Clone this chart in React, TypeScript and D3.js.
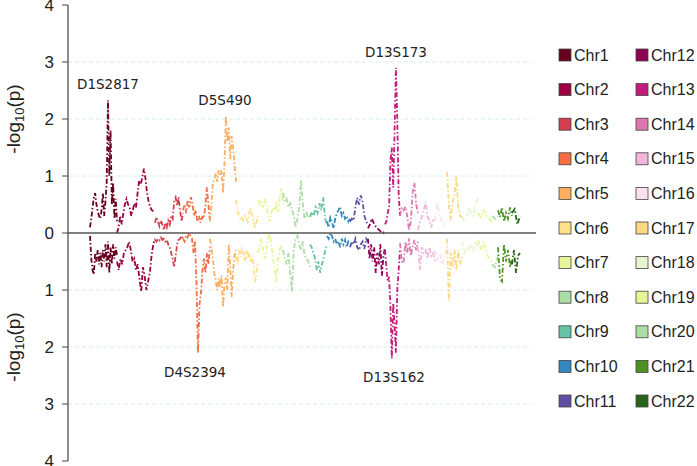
import React from "react";
import * as d3 from "d3";

// chromosome names, lengths (map units) and colours
const chrNames = ["Chr1", "Chr2", "Chr3", "Chr4", "Chr5", "Chr6", "Chr7", "Chr8", "Chr9", "Chr10", "Chr11",
  "Chr12", "Chr13", "Chr14", "Chr15", "Chr16", "Chr17", "Chr18", "Chr19", "Chr20", "Chr21", "Chr22"];
const chrLength = [27, 38, 28, 27, 26, 22, 25, 27, 17, 23, 18, 17, 15, 18, 17, 12, 15, 16, 14, 6, 14, 8];
const chrColors = ["#67001f", "#9e0142", "#d53e4f", "#f46d43", "#fdae61", "#fee08b", "#e6f598", "#abdda4",
  "#66c2a5", "#3288bd", "#5e4fa2", "#8e0152", "#c51b7d", "#de77ae", "#f1b6da", "#fde0ef", "#fdd97f",
  "#e6f5d0", "#e6f598", "#abdda4", "#4d9221", "#276419"];

// -log10(p), upper panel (one array per chromosome, evenly spaced along it)
const topValues = [
  [0.1, 0.25, 0.45, 0.62, 0.7, 0.5, 0.38, 0.3, 0.25, 0.4, 0.7, 0.3, 0.55, 0.9, 2.33, 1.0, 1.8, 0.5, 0.88, 0.25, 0.6, 0.2],
  [0.0, 0.1, 0.3, 0.15, 0.35, 0.5, 0.6, 0.5, 0.45, 0.3, 0.4, 0.52, 0.45, 0.7, 0.92, 0.85, 0.98, 1.13, 0.95, 0.7, 0.55, 0.45, 0.4, 0.38, 0.37],
  [0.18, 0.28, 0.2, 0.12, 0.22, 0.15, 0.05, 0.18, 0.1, 0.22, 0.15, 0.3, 0.25, 0.55, 0.62, 0.48, 0.63, 0.4, 0.2, 0.35],
  [0.4, 0.5, 0.35, 0.58, 0.45, 0.63, 0.5, 0.3, 0.4, 0.2, 0.3, 0.18, 0.28, 0.25, 0.45, 0.8, 0.5, 0.2],
  [0.2, 0.5, 0.88, 0.95, 1.05, 0.9, 1.1, 1.0, 1.1, 0.7, 1.2, 2.05, 1.6, 1.85, 1.3, 1.7, 1.5, 1.2, 0.9],
  [0.58, 0.4, 0.3, 0.25, 0.28, 0.22, 0.3, 0.25, 0.2, 0.35, 0.44, 0.3, 0.2, 0.08, 0.2, 0.3],
  [0.58, 0.5, 0.55, 0.45, 0.6, 0.5, 0.3, 0.2, 0.35, 0.45, 0.4, 0.5, 0.37, 0.6, 0.78, 0.5],
  [0.7, 0.55, 0.6, 0.45, 0.52, 0.4, 0.3, 0.1, 0.25, 0.45, 0.93, 0.5, 0.25, 0.35, 0.28, 0.3],
  [0.28, 0.37, 0.3, 0.45, 0.35, 0.52, 0.4, 0.63, 0.25, 0.15],
  [0.2, 0.1, 0.27, 0.2, 0.08, 0.25, 0.35, 0.4, 0.46, 0.3, 0.35, 0.25, 0.3, 0.2, 0.25],
  [0.2, 0.25, 0.22, 0.45, 0.62, 0.5, 0.66, 0.55, 0.3, 0.2, 0.15],
  [0.08, 0.15, 0.25, 0.18, 0.12, 0.08, 0.05, 0.02, 0.0, 0.05],
  [0.15, 0.2, 0.35, 0.46, 1.28, 1.5, 0.8, 1.75, 2.9, 1.98, 0.7, 0.3],
  [0.3, 0.45, 0.4, 0.46, 0.3, 0.05, 0.2, 0.7, 0.88, 0.5, 0.35],
  [0.05, 0.2, 0.28, 0.4, 0.55, 0.3, 0.22, 0.1, 0.25, 0.22],
  [0.22, 0.53, 0.3, 0.2, 0.15, 0.2],
  [1.07, 0.5, 0.23, 0.55, 0.65, 1.0, 0.45, 0.3, 0.28],
  [0.28, 0.2, 0.25, 0.45, 0.35, 0.3, 0.5, 0.62],
  [0.35, 0.28, 0.4, 0.3, 0.25, 0.2],
  [0.3, 0.25, 0.3],
  [0.4, 0.28, 0.45, 0.2, 0.35, 0.25, 0.45, 0.3],
  [0.35, 0.42, 0.15, 0.3]
];

// -log10(p), lower panel
const bottomValues = [
  [0.05, 0.45, 0.65, 0.73, 0.35, 0.5, 0.3, 0.55, 0.35, 0.6, 0.3, 0.5, 0.2, 0.6, 0.15, 0.7, 0.25, 0.55, 0.2, 0.45, 0.25, 0.4],
  [0.5, 0.65, 0.45, 0.55, 0.35, 0.3, 0.25, 0.15, 0.3, 0.5, 0.45, 0.65, 0.55, 0.8, 1.03, 0.6, 0.75, 1.0, 0.85, 0.7, 0.4, 0.2, 0.1],
  [0.12, 0.15, 0.1, 0.13, 0.08, 0.12, 0.1, 0.15, 0.12, 0.2, 0.25, 0.35, 0.45, 0.6, 0.4, 0.2, 0.12, 0.1, 0.05, 0.1],
  [0.1, 0.15, 0.05, 0.08, 0.0, 0.05, 0.1, 0.35, 0.15, 0.9, 2.1, 1.25, 1.05, 0.65, 0.45, 0.7, 0.35, 0.55, 0.25],
  [0.1, 0.25, 0.45, 0.7, 0.85, 1.0, 0.8, 0.95, 0.75, 1.3, 0.9, 0.78, 1.0, 0.2, 0.6, 1.12, 0.65, 0.4, 0.3],
  [0.4, 0.55, 0.3, 0.42, 0.25, 0.35, 0.5, 0.3, 0.45, 0.35, 0.5, 0.4, 0.6, 0.86, 0.7, 0.5],
  [0.35, 0.25, 0.1, 0.3, 0.45, 0.35, 0.1, 0.0, 0.2, 0.45, 0.6, 0.86, 0.5, 0.3, 0.25, 0.35],
  [0.3, 0.45, 0.55, 0.35, 0.7, 1.03, 0.3, 0.1, 0.05, 0.2, 0.3, 0.15, 0.4, 0.45, 0.5, 0.6],
  [0.2, 0.25, 0.35, 0.45, 0.65, 0.5, 0.7, 0.55, 0.45, 0.3, 0.2],
  [0.05, 0.1, 0.0, 0.05, 0.15, 0.1, 0.2, 0.15, 0.25, 0.1, 0.2, 0.12, 0.25, 0.15, 0.18],
  [0.25, 0.15, 0.2, 0.1, 0.25, 0.3, 0.2, 0.15, 0.28, 0.1, 0.15],
  [0.1, 0.45, 0.2, 0.5, 0.25, 0.7, 0.35, 0.55, 0.2, 0.75, 0.4, 0.25],
  [0.3, 0.6, 0.85, 0.77, 1.3, 2.2, 1.23, 1.6, 2.1, 1.0, 0.65, 0.3],
  [0.18, 0.5, 0.53, 0.15, 0.35, 0.1, 0.4, 0.25, 0.12, 0.3, 0.15],
  [0.25, 0.65, 0.25, 0.35, 0.3, 0.45, 0.25, 0.4, 0.35, 0.5],
  [0.3, 0.5, 0.35, 0.55, 0.4, 0.3],
  [0.1, 1.2, 0.35, 0.6, 0.3, 0.65, 0.3, 0.55, 0.4],
  [0.15, 0.35, 0.25, 0.3, 0.2, 0.3, 0.15, 0.3],
  [0.12, 0.3, 0.15, 0.35, 0.45, 0.5],
  [0.55, 0.6, 0.4],
  [0.25, 0.8, 0.85, 0.2, 0.5, 0.3, 0.6, 0.45],
  [0.55, 0.3, 0.7, 0.4, 0.35]
];

// marker labels: [name, chromosome index, position within chr, value]
const topMarkers = [["D1S2817", 0, 18, 2.33], ["D5S490", 4, 15, 2.05], ["D13S173", 12, 11, 2.9]];
const bottomMarkers = [["D4S2394", 3, 12, 2.1], ["D13S162", 12, 9, 2.2]];

const yTicks = [0, 1, 2, 3, 4];
const gridTicks = [1, 2, 3];

const W = 697;
const H = 466;

export default function App() {
  const axisX = 68;
  const zeroY = 233;
  const unit = 57;

  const starts = d3.cumsum([0, ...chrLength.slice(0, -1)]);
  const total = d3.sum(chrLength);
  const x = d3.scaleLinear().domain([0, total]).range([90, 520]);
  const yTop = d3.scaleLinear().domain([0, 4]).range([zeroY, zeroY - 4 * unit]);
  const yBot = d3.scaleLinear().domain([0, 4]).range([zeroY, zeroY + 4 * unit]);

  const toPoints = (vals, i) =>
    vals.map((v, j) => [starts[i] + (chrLength[i] * j) / (vals.length - 1), v]);

  const lineTop = d3.line().x(d => x(d[0])).y(d => yTop(d[1]));
  const lineBot = d3.line().x(d => x(d[0])).y(d => yBot(d[1]));

  const dash = "5,2.2,1.5,2.2";
  const axisFont = "'Liberation Sans', Arial, sans-serif";
  const labelFont = "'DejaVu Sans', sans-serif";

  const legendRows = 11;

  return (
    <svg width={W} height={H} style={{ position: "absolute", left: 0, top: 0 }}>
      {/* grid */}
      {gridTicks.map(t => (
        <g key={"g" + t}>
          <line x1={axisX} x2={532} y1={yTop(t)} y2={yTop(t)} stroke="#d6eeee" strokeDasharray="4,3" />
          <line x1={axisX} x2={532} y1={yBot(t)} y2={yBot(t)} stroke="#d6eeee" strokeDasharray="4,3" />
        </g>
      ))}

      {/* chromosome lines */}
      {topValues.map((vals, i) => (
        <path key={"t" + i} d={lineTop(toPoints(vals, i))} fill="none" stroke={chrColors[i]}
          strokeWidth={1.8} strokeDasharray={dash} />
      ))}
      {bottomValues.map((vals, i) => (
        <path key={"b" + i} d={lineBot(toPoints(vals, i))} fill="none" stroke={chrColors[i]}
          strokeWidth={1.8} strokeDasharray={dash} />
      ))}

      {/* zero line and y axis */}
      <line x1={axisX} x2={536} y1={zeroY} y2={zeroY} stroke="#555" strokeWidth={1.5} />
      <line x1={axisX} x2={axisX} y1={yTop(4)} y2={yBot(4)} stroke="#444" strokeWidth={1.2} />
      {yTicks.map(t => (
        <g key={"yt" + t} fontFamily={axisFont} fontSize={17} fill="#222">
          <line x1={axisX - 6} x2={axisX} y1={yTop(t)} y2={yTop(t)} stroke="#444" />
          <text x={54} y={yTop(t)} textAnchor="end" dominantBaseline="central">{t}</text>
          {t > 0 && <line x1={axisX - 6} x2={axisX} y1={yBot(t)} y2={yBot(t)} stroke="#444" />}
          {t > 0 && <text x={54} y={yBot(t)} textAnchor="end" dominantBaseline="central">{t}</text>}
        </g>
      ))}
      {[yTop(2), yBot(2)].map((cy, k) => (
        <text key={"yl" + k} transform={`translate(20,${cy}) rotate(-90)`} textAnchor="middle"
          fontFamily={axisFont} fontSize={19} fill="#222">
          -log<tspan fontSize={13} dy={4}>10</tspan><tspan dy={-4}>(p)</tspan>
        </text>
      ))}

      {/* marker labels */}
      {topMarkers.map(m => (
        <text key={m[0]} x={x(starts[m[1]] + m[2])} y={yTop(m[3]) - 11} textAnchor="middle"
          fontFamily={labelFont} fontSize={13.5} fill="#222">{m[0]}</text>
      ))}
      {bottomMarkers.map(m => (
        <text key={m[0]} x={x(starts[m[1]] + m[2])} y={yBot(m[3]) + 24} textAnchor="middle"
          fontFamily={labelFont} fontSize={13.5} fill="#222">{m[0]}</text>
      ))}

      {/* legend */}
      {chrNames.map((name, i) => {
        const col = Math.floor(i / legendRows);
        const row = i % legendRows;
        const lx = 559 + col * 77;
        const ly = 55 + row * 34.6;
        return (
          <g key={name}>
            <rect x={lx} y={ly - 6} width={12} height={12} fill={chrColors[i]} stroke="#444" strokeWidth={0.8} />
            <text x={lx + 15} y={ly} dominantBaseline="central" fontFamily={axisFont} fontSize={16} fill="#222">{name}</text>
          </g>
        );
      })}
    </svg>
  );
}
